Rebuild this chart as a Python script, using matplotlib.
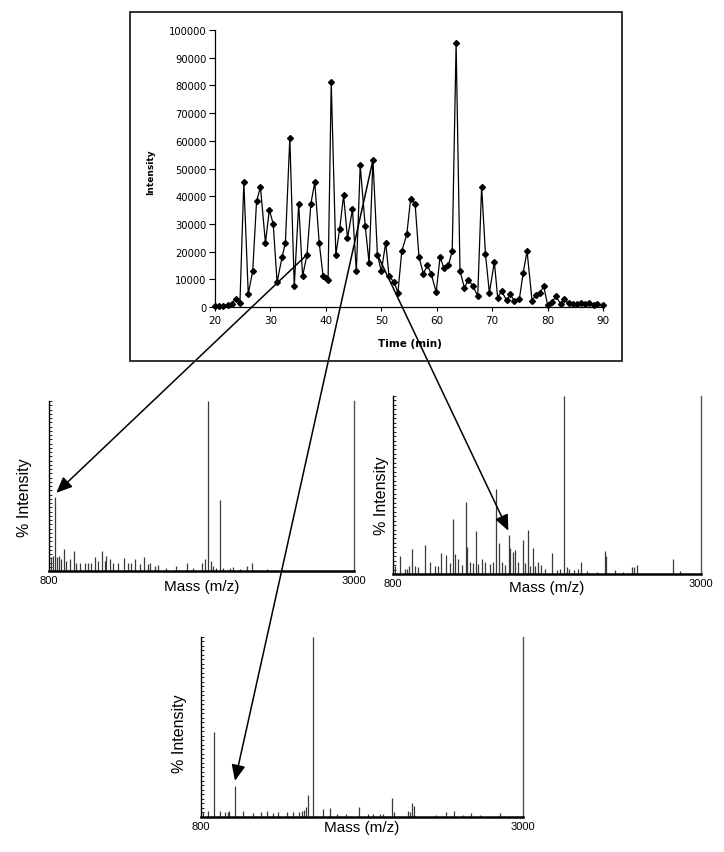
import matplotlib
matplotlib.use('Agg')
import matplotlib.pyplot as plt
import numpy as np
from matplotlib.patches import Rectangle, ConnectionPatch

# ---- chromatogram data ----
time_min = [20.0, 20.7, 21.5, 22.3, 23.0, 23.7, 24.5, 25.2, 26.0, 26.8,
            27.5, 28.2, 29.1, 29.8, 30.5, 31.2, 32.1, 32.7, 33.5, 34.3,
            35.1, 35.8, 36.6, 37.3, 38.0, 38.8, 39.5, 40.1, 40.4, 40.97,
            41.8, 42.5, 43.2, 43.9, 44.8, 45.5, 46.2, 47.1, 47.8, 48.5,
            49.3, 50.0, 50.8, 51.4, 52.3, 53.0, 53.7, 54.6, 55.3, 56.1,
            56.8, 57.6, 58.3, 59.0, 59.9, 60.6, 61.3, 62.1, 62.8, 63.5,
            64.2, 65.0, 65.7, 66.5, 67.4, 68.1, 68.8, 69.5, 70.4, 71.0,
            71.7, 72.6, 73.3, 74.0, 74.9, 75.6, 76.3, 77.2, 77.9, 78.6,
            79.3, 80.0, 80.8, 81.5, 82.4, 83.0, 83.8, 84.5, 85.3, 86.0,
            86.8, 87.5, 88.3, 89.0, 90.0]
intensity = [400, 400, 500, 800, 1200, 3000, 1500, 45000, 4800, 12900,
             38200, 43300, 23100, 35100, 30000, 9000, 18000, 23200, 61000, 7500,
             37300, 11100, 18900, 37300, 45100, 23200, 11200, 10500, 9900, 81100,
             18900, 28200, 40300, 24900, 35200, 12900, 51100, 29200, 15900, 53100,
             18900, 12900, 23200, 11100, 9000, 5200, 20200, 26200, 39100, 37300,
             18000, 12000, 15000, 12000, 5400, 18000, 14100, 15000, 20200, 95200,
             13000, 6900, 9900, 7600, 4000, 43500, 19000, 5200, 16200, 3400,
             5800, 2400, 4600, 2000, 2800, 12300, 20200, 2200, 4500, 5000,
             7500, 800, 1800, 3800, 1000, 2800, 1400, 1200, 1100, 1400,
             1200, 1600, 800, 1100, 700]
x_ticks = [20, 30, 40, 50, 60, 70, 80, 90]
y_ticks = [0, 10000, 20000, 30000, 40000, 50000, 60000, 70000, 80000, 90000, 100000]

# ---- mass spectra data (m/z, % intensity) ----
left_mz = [817, 829, 846, 858, 872, 889, 908, 925, 949, 978,
           997, 1021, 1058, 1082, 1106, 1130, 1154, 1183, 1202, 1214,
           1238, 1262, 1298, 1341, 1370, 1394, 1423, 1455, 1483, 1515,
           1532, 1563, 1587, 1647, 1719, 1792, 1840, 1900, 1924, 1946,
           1965, 1984, 2008, 2032, 2052, 2104, 2129, 2177, 2225, 2266,
           2369, 2490]
left_pct = [8, 9, 43.7, 8, 9, 7, 12.7, 6, 7, 12,
            5, 5, 4.5, 5, 4.5, 8, 6, 12, 6, 9,
            7, 5, 4.5, 7.5, 5, 4.5, 7, 4, 8, 4,
            5, 3, 3.3, 2, 3, 4.5, 1.5, 5, 7, 100,
            6, 3, 2, 42, 2, 1.5, 2.5, 1, 3, 4.5,
            1, 0.5]

right_mz = [817, 852, 888, 905, 919, 936, 960, 983, 1031, 1067,
            1102, 1126, 1143, 1181, 1210, 1233, 1248, 1269, 1293, 1326,
            1333, 1352, 1376, 1393, 1412, 1436, 1460, 1495, 1514, 1538,
            1557, 1579, 1602, 1633, 1638, 1657, 1674, 1698, 1729, 1745,
            1764, 1781, 1802, 1817, 1836, 1860, 1888, 1940, 1971, 1995,
            2026, 2043, 2062, 2095, 2126, 2145, 2186, 2257, 2314, 2324,
            2388, 2448, 2512, 2526, 2543, 2805, 2852]
right_pct = [4.7, 10.3, 3, 2.8, 4.3, 14, 4.7, 3.7, 16.4, 7,
             4.7, 4.3, 11.6, 10.7, 6, 31, 11, 8.4, 5, 40.7,
             15, 6.5, 6, 24, 5.6, 8.4, 7, 5.6, 7, 48,
             17.4, 6.5, 5, 21.9, 14.6, 12.5, 13.5, 7, 19, 6,
             25, 4.7, 14.6, 4.3, 7, 5, 3, 12, 2.4, 2.8,
             100, 4, 2.8, 2, 2.8, 7, 1.5, 1.3, 12.7, 10,
             2, 1.3, 3.7, 3.7, 5, 8.4, 1.5]

bottom_mz = [814, 848, 893, 932, 966, 984, 995, 1036, 1091, 1159,
             1211, 1255, 1295, 1325, 1391, 1427, 1473, 1489, 1505, 1518,
             1530, 1564, 1636, 1680, 1727, 1795, 1880, 1943, 1977, 2023,
             2045, 2107, 2120, 2216, 2227, 2239, 2259, 2409, 2477, 2527,
             2591, 2643, 2705, 2845]
bottom_pct = [2.4, 3.2, 47.4, 3, 2.8, 2.8, 3, 17.3, 3.3, 2,
              2.4, 3.3, 2, 2.8, 2.4, 2.8, 2.8, 3.3, 3.7, 5.2,
              12, 100, 4.3, 4.8, 1.7, 1.5, 5.2, 1.5, 1.7, 1.3,
              1.5, 10.4, 2.8, 3.3, 2.4, 7.6, 6.1, 1.1, 2.4, 3.3,
              0.9, 2, 0.9, 1.9]

mass_ticks = [800, 3000]

# arrow anchors: (time, intensity) -> (m/z, %)
arrow_from = [(36.6, 18900), (48.5, 53100), (49.3, 18900)]
arrow_to = [(853, 46), (1034, 20), (1626, 24.3)]

# ---- figure ----
W, H = 724, 853
fig = plt.figure(figsize=(W / 100, H / 100), dpi=100)
fig.patch.set_facecolor('white')


def frac(x0, y0, x1, y1):
    return [x0 / W, 1 - y1 / H, (x1 - x0) / W, (y1 - y0) / H]


# frame around chromatogram
fig.patches.append(Rectangle((130 / W, 1 - 362 / H), 492 / W, 349 / H,
                             transform=fig.transFigure, fill=False,
                             lw=1.3, ec='#222222'))

ax = fig.add_axes(frac(215, 31, 603, 308))
ax.plot(time_min, intensity, color='black', lw=0.9, marker='D', ms=3.0,
        mfc='black', mec='black', clip_on=False, zorder=3)
ax.set_xlim(20, 90)
ax.set_ylim(0, 100000)
ax.set_xticks(x_ticks)
ax.set_yticks(y_ticks)
ax.set_xticklabels([str(v) for v in x_ticks], fontsize=7.5, family='DejaVu Sans')
ax.set_yticklabels([str(v) for v in y_ticks], fontsize=7.2, family='DejaVu Sans')
for s in ['top', 'right']:
    ax.spines[s].set_visible(False)
for s in ['left', 'bottom']:
    ax.spines[s].set_linewidth(0.9)
ax.tick_params(axis='y', direction='out', length=4, width=0.8, pad=2)
ax.tick_params(axis='x', direction='out', length=3, width=0.8, pad=3)
ax.text((150.7 - 215) / 388, (308 - 172) / 277, 'Intensity', transform=ax.transAxes,
        rotation=90, ha='center', va='center', fontsize=6.5, fontweight='bold',
        family='DejaVu Sans')
ax.text((410 - 215) / 388, (308 - 344) / 277, 'Time (min)', transform=ax.transAxes,
        ha='center', va='center', fontsize=7.5, fontweight='bold', family='DejaVu Sans')


def spectrum(rect, mz, pct, ylab_xy, xlab_xy):
    a = fig.add_axes(rect)
    a.vlines(mz, 0, pct, color='#3a3a3a', lw=0.9)
    a.set_xlim(800, 3000)
    a.set_ylim(0, 100)
    a.spines['top'].set_visible(False)
    a.spines['right'].set_color('#555555')
    a.spines['right'].set_linewidth(1.0)
    a.spines['left'].set_linewidth(1.0)
    a.spines['bottom'].set_linewidth(1.8)
    a.set_xticks(mass_ticks)
    a.set_xticklabels([str(v) for v in mass_ticks], fontsize=8, family='Liberation Sans')
    a.tick_params(axis='x', length=0, pad=3)
    a.set_yticks(np.arange(0, 100.1, 2.5))
    a.set_yticklabels([])
    a.tick_params(axis='y', direction='in', length=2, width=0.6)
    a.text(ylab_xy[0], ylab_xy[1], '% Intensity', transform=a.transAxes, rotation=90,
           ha='center', va='center', fontsize=11.5, family='Liberation Sans')
    a.text(xlab_xy[0], xlab_xy[1], 'Mass (m/z)', transform=a.transAxes,
           ha='center', va='center', fontsize=11, family='Liberation Sans')
    return a


ax_l = spectrum(frac(49, 402, 354, 572), left_mz, left_pct, (-0.079, 0.44), (0.50, -0.088))
ax_r = spectrum(frac(392.7, 397, 700.7, 575), right_mz, right_pct, (-0.035, 0.444), (0.50, -0.073))
ax_b = spectrum(frac(200.7, 638, 523, 817.7), bottom_mz, bottom_pct, (-0.067, 0.47), (0.50, -0.057))

targets = [ax_l, ax_b, ax_r]
for (pa, pb, tgt) in zip(arrow_from, arrow_to, targets):
    con = ConnectionPatch(xyA=pa, coordsA=ax.transData, xyB=pb, coordsB=tgt.transData,
                          arrowstyle='-|>,head_length=0.8,head_width=0.35',
                          mutation_scale=12, lw=1.1, color='black', shrinkA=0, shrinkB=0)
    fig.add_artist(con)

fig.savefig('out.png', dpi=100, facecolor='white')
